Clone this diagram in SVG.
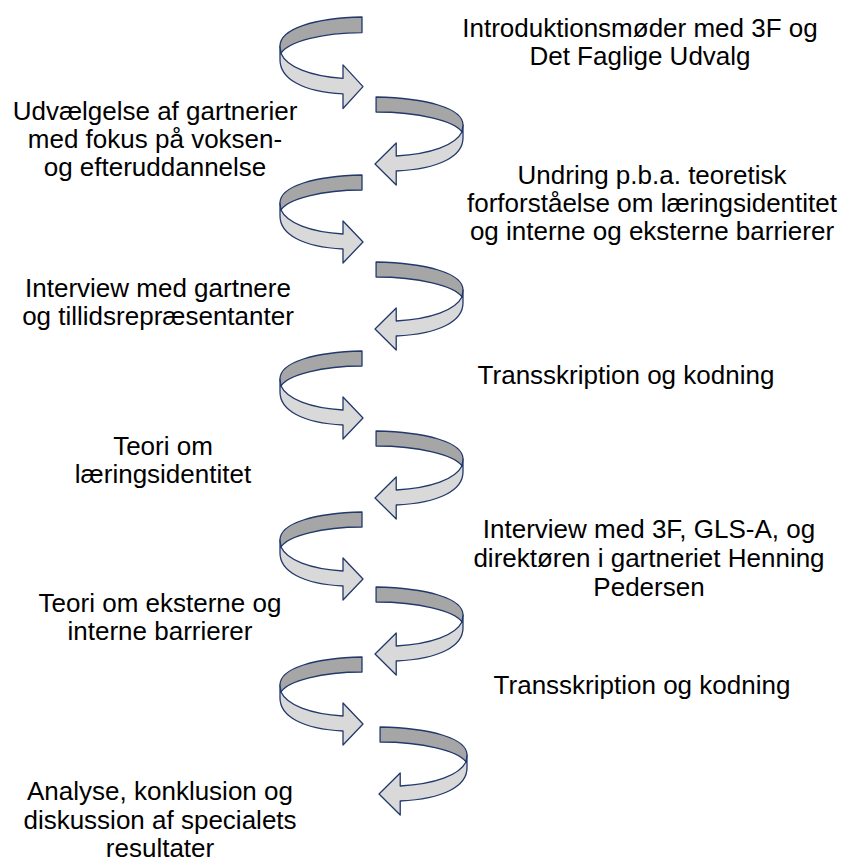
<svg xmlns="http://www.w3.org/2000/svg" xmlns:xlink="http://www.w3.org/1999/xlink" width="843" height="863" viewBox="0 0 843 863">
<style>
.t{font-family:"Liberation Sans",Arial,sans-serif;font-size:26px;fill:#000;text-anchor:middle}
.dk{fill:#a6a6a6;stroke:#23396b;stroke-width:1.3;stroke-linejoin:round;vector-effect:non-scaling-stroke}
.lt{fill:#d9d9d9;stroke:#23396b;stroke-width:1.3;stroke-linejoin:round;vector-effect:non-scaling-stroke}
</style>
<defs>
<g id="arr">
<path class="lt" d="M280,28 L281,35 C287,48 310,57 343,59 L343,46 L363,67 L343,88 L343,74 C302,72 280,59 280,41 Z"/>
<path class="dk" d="M362,0 C315,1 280,11 280,28 L281,35 C288,24 322,15 362,15 Z"/>
</g>
</defs>
<rect width="843" height="863" fill="#fff"/>
<g id="connectors">
<use href="#arr" xlink:href="#arr" transform="translate(0,17) scale(1,1.04)"/>
<use href="#arr" xlink:href="#arr" transform="matrix(-1.06,0,0,1,759.8,97)"/>
<use href="#arr" xlink:href="#arr" transform="translate(0,175)"/>
<use href="#arr" xlink:href="#arr" transform="matrix(-1.06,0,0,1,759.8,262)"/>
<use href="#arr" xlink:href="#arr" transform="translate(0,351)"/>
<use href="#arr" xlink:href="#arr" transform="matrix(-1.06,0,0,1,759.8,431)"/>
<use href="#arr" xlink:href="#arr" transform="translate(0,512)"/>
<use href="#arr" xlink:href="#arr" transform="matrix(-1.06,0,0,1,759.8,587)"/>
<use href="#arr" xlink:href="#arr" transform="translate(0,657)"/>
<use href="#arr" xlink:href="#arr" transform="matrix(-1.06,0,0,1,763.8,727)"/>
</g>
<g id="n1"><text class="t" x="640" y="37">Introduktionsmøder med 3F og</text><text class="t" x="640" y="65">Det Faglige Udvalg</text></g>
<g id="n2"><text class="t" x="155" y="120">Udvælgelse af gartnerier</text><text class="t" x="155" y="148">med fokus på voksen-</text><text class="t" x="155" y="176">og efteruddannelse</text></g>
<g id="n3"><text class="t" x="652" y="184">Undring p.b.a. teoretisk</text><text class="t" x="652" y="212">forforståelse om læringsidentitet</text><text class="t" x="652" y="240">og interne og eksterne barrierer</text></g>
<g id="n4"><text class="t" x="158" y="297">Interview med gartnere</text><text class="t" x="158" y="325">og tillidsrepræsentanter</text></g>
<g id="n5"><text class="t" x="626" y="384">Transskription og kodning</text></g>
<g id="n6"><text class="t" x="163" y="455">Teori om</text><text class="t" x="163" y="483">læringsidentitet</text></g>
<g id="n7"><text class="t" x="649" y="538">Interview med 3F, GLS-A, og</text><text class="t" x="649" y="567">direktøren i gartneriet Henning</text><text class="t" x="649" y="596">Pedersen</text></g>
<g id="n8"><text class="t" x="160" y="612">Teori om eksterne og</text><text class="t" x="160" y="640">interne barrierer</text></g>
<g id="n9"><text class="t" x="642" y="694">Transskription og kodning</text></g>
<g id="n10"><text class="t" x="160" y="800">Analyse, konklusion og</text><text class="t" x="160" y="829">diskussion af specialets</text><text class="t" x="160" y="857">resultater</text></g>
</svg>
